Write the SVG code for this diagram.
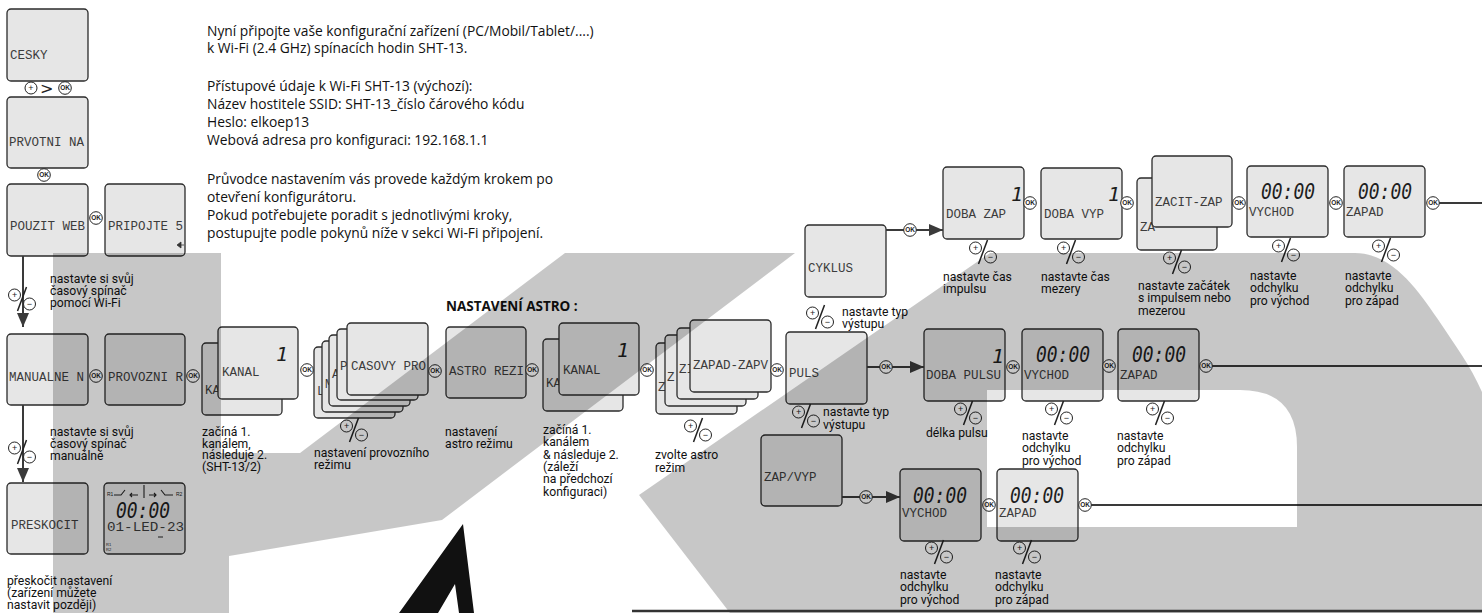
<svg xmlns="http://www.w3.org/2000/svg" width="1482" height="613" viewBox="0 0 1482 613">
<defs>
<style>
.b{fill:#e6e6e6;stroke:#2b2b2b;stroke-width:1.3}
.t{font-family:"Liberation Mono",monospace;font-size:12.5px;fill:#3c3c3c}
.d{font-family:"DejaVu Sans Mono",monospace;font-style:italic;font-size:22px;fill:#1e1e1e}
.one{font-family:"DejaVu Sans Mono",monospace;font-style:italic;font-size:20px;fill:#1e1e1e}
.l{font-family:Roboto,"Open Sans",sans-serif;font-size:12.2px;fill:#111}
.h{font-family:"Open Sans",sans-serif;font-size:13.8px;fill:#111}
.hb{font-family:"Open Sans",sans-serif;font-size:13.5px;font-weight:bold;fill:#111}
.c{stroke:#3a3a3a;stroke-width:2;fill:none}
.okc{fill:#fff;stroke:#222;stroke-width:1}
.okt{font-family:"Liberation Sans",sans-serif;font-size:6.5px;font-weight:bold;fill:#222;text-anchor:middle}
.pmc{fill:#fff;stroke:#222;stroke-width:1}
.pmt{font-family:"Liberation Sans",sans-serif;font-size:9px;fill:#222;text-anchor:middle}
.s{font-family:"Liberation Sans",sans-serif;font-size:5px;fill:#222}
.wm{fill:#000;fill-opacity:.22}
</style>
<g id="ok"><circle class="okc" r="6.3"/><text class="okt" y="2.4">OK</text></g>
<g id="pm"><circle class="pmc" cx="-7.5" cy="-4" r="6"/><text class="pmt" x="-7.5" y="-1">+</text><circle class="pmc" cx="7.5" cy="5" r="6"/><text class="pmt" x="7.5" y="8">−</text><path d="M4.5,-12 L-4.5,12" stroke="#222" stroke-width="1.5"/></g>
<marker id="ah" viewBox="0 0 14 12" refX="14" refY="6" markerWidth="14" markerHeight="12" markerUnits="userSpaceOnUse" orient="auto"><path d="M0,0 L14,6 L0,12 Z" fill="#3a3a3a"/></marker>
</defs>
<rect width="1482" height="613" fill="#fff"/>

<g id="intro">
<text class="h" x="207" y="36"><tspan x="207">Nyní připojte vaše konfigurační zařízení (PC/Mobil/Tablet/....)</tspan><tspan x="207" dy="17">k Wi-Fi (2.4 GHz) spínacích hodin SHT-13.</tspan></text>
<text class="h" x="207" y="91"><tspan x="207">Přístupové údaje k Wi-Fi SHT-13 (výchozí):</tspan><tspan x="207" dy="18">Název hostitele SSID: SHT-13_číslo čárového kódu</tspan><tspan x="207" dy="18">Heslo: elkoep13</tspan><tspan x="207" dy="18">Webová adresa pro konfiguraci: 192.168.1.1</tspan></text>
<text class="h" x="207" y="184"><tspan x="207">Průvodce nastavením vás provede každým krokem po</tspan><tspan x="207" dy="18">otevření konfigurátoru.</tspan><tspan x="207" dy="18">Pokud potřebujete poradit s jednotlivými kroky,</tspan><tspan x="207" dy="18">postupujte podle pokynů níže v sekci Wi-Fi připojení.</tspan></text>
<text class="hb" x="446" y="311">NASTAVENÍ ASTRO :</text>
</g>

<g id="n-cesky"><rect class="b" x="7" y="9" width="81" height="72" rx="4"/><text class="t" x="10" y="59">CESKY</text></g>
<g id="n-prvotni"><rect class="b" x="7" y="97" width="81" height="71" rx="4"/><text class="t" x="9" y="146">PRVOTNI NA</text></g>
<g id="n-pouzit"><rect class="b" x="7" y="184" width="81" height="72" rx="4"/><text class="t" x="10" y="230">POUZIT WEB</text></g>
<g id="n-pripojte"><rect class="b" x="105" y="184" width="80" height="72" rx="4"/><text class="t" x="108" y="230">PRIPOJTE 5</text><path d="M177,245 L181,242 V248 Z M181,245 H184" stroke="#333" stroke-width="0.8" fill="#333"/></g>
<g id="n-manual"><rect class="b" x="7" y="334" width="81" height="71" rx="4"/><text class="t" x="9" y="381">MANUALNE N</text></g>
<g id="n-provozni"><rect class="b" x="105" y="334" width="80" height="71" rx="4"/><text class="t" x="108" y="381">PROVOZNI R</text></g>
<g id="n-preskocit"><rect class="b" x="7" y="483" width="81" height="71" rx="4"/><text class="t" x="11" y="529">PRESKOCIT</text></g>
<g id="n-clock"><rect class="b" x="104" y="483" width="81" height="71" rx="4"/>
<text class="s" x="107" y="496">R1</text><text class="s" x="176" y="496">R2</text>
<path d="M114,495 H121 L125,490 M131,495 H138 M132,493 L130,495 L132,497 M144,485 V498 M149,495 H156 M154,493 L156,495 L154,497 M161,490 L165,495 H173" stroke="#222" stroke-width="1.1" fill="none"/>
<text class="d" x="116" y="518" textLength="54" lengthAdjust="spacingAndGlyphs">00:00</text>
<text class="t" x="107" y="531" textLength="77" lengthAdjust="spacingAndGlyphs">01-LED-23</text>
<path d="M158,537 H163" stroke="#222" stroke-width="1"/>
<text class="s" x="106" y="546" style="font-size:4px">R1</text><text class="s" x="106" y="550.5" style="font-size:4px">R2</text>
</g>

<g id="n-kanal1"><rect class="b" x="202" y="343" width="80" height="72" rx="4"/><text class="t" x="205" y="394">KA</text><rect class="b" x="218" y="327" width="80" height="72" rx="4"/><text class="t" x="222" y="376">KANAL</text><text class="one" x="276" y="361">1</text></g>
<g id="n-casovy">
<rect class="b" x="314" y="347" width="81" height="71" rx="4"/><text class="t" x="317" y="395">L</text>
<rect class="b" x="322" y="341" width="81" height="71" rx="4"/><text class="t" x="325" y="388">M</text>
<rect class="b" x="329" y="335" width="81" height="71" rx="4"/><text class="t" x="332" y="378">A</text>
<rect class="b" x="337" y="329" width="81" height="71" rx="4"/><text class="t" x="340" y="370">P</text>
<rect class="b" x="347" y="323" width="81" height="72" rx="4"/><text class="t" x="351" y="370">CASOVY PRO</text>
</g>
<g id="n-astro"><rect class="b" x="446" y="327" width="80" height="71" rx="4"/><text class="t" x="449" y="375">ASTRO REZI</text></g>
<g id="n-kanal2"><rect class="b" x="543" y="339" width="80" height="72" rx="4"/><text class="t" x="546" y="387">KA</text><rect class="b" x="559" y="323" width="80" height="72" rx="4"/><text class="t" x="563" y="374">KANAL</text><text class="one" x="617" y="357">1</text></g>
<g id="n-zapad-stack">
<rect class="b" x="656" y="343" width="81" height="71" rx="4"/><text class="t" x="658" y="391">Z</text>
<rect class="b" x="665" y="335" width="81" height="71" rx="4"/><text class="t" x="667" y="381">Z</text>
<rect class="b" x="677" y="328" width="81" height="71" rx="4"/><text class="t" x="679" y="373">ZI</text>
<rect class="b" x="690" y="320" width="81" height="72" rx="4"/><text class="t" x="693" y="369">ZAPAD-ZAPV</text>
</g>
<g id="n-puls"><rect class="b" x="786" y="332" width="81" height="72" rx="4"/><text class="t" x="789" y="377">PULS</text></g>
<g id="n-cyklus"><rect class="b" x="805" y="225" width="81" height="72" rx="4"/><text class="t" x="808" y="272">CYKLUS</text></g>
<g id="n-zapvyp"><rect class="b" x="761" y="435" width="81" height="71" rx="4"/><text class="t" x="764" y="481">ZAP/VYP</text></g>

<g id="n-dobazap"><rect class="b" x="943" y="167" width="81" height="72" rx="4"/><text class="one" x="1011" y="201">1</text><text class="t" x="946" y="218">DOBA ZAP</text></g>
<g id="n-dobavyp"><rect class="b" x="1041" y="168" width="81" height="71" rx="4"/><text class="one" x="1108" y="201">1</text><text class="t" x="1044" y="218">DOBA VYP</text></g>
<g id="n-zacit"><rect class="b" x="1137" y="178" width="80" height="72" rx="4"/><text class="t" x="1140" y="231">ZA</text><rect class="b" x="1152" y="156" width="80" height="71" rx="4"/><text class="t" x="1155" y="206">ZACIT-ZAP</text></g>
<g id="n-vychod1"><rect class="b" x="1247" y="166" width="81" height="71" rx="4"/><text class="d" x="1261" y="199" textLength="54" lengthAdjust="spacingAndGlyphs">00:00</text><text class="t" x="1249" y="216">VYCHOD</text></g>
<g id="n-zapad1"><rect class="b" x="1344" y="166" width="81" height="71" rx="4"/><text class="d" x="1358" y="199" textLength="54" lengthAdjust="spacingAndGlyphs">00:00</text><text class="t" x="1346" y="216">ZAPAD</text></g>

<g id="n-dobapulsu"><rect class="b" x="924" y="329" width="81" height="72" rx="4"/><text class="one" x="992" y="363">1</text><text class="t" x="926" y="379">DOBA PULSU</text></g>
<g id="n-vychod2"><rect class="b" x="1022" y="329" width="81" height="72" rx="4"/><text class="d" x="1036" y="362" textLength="54" lengthAdjust="spacingAndGlyphs">00:00</text><text class="t" x="1024" y="379">VYCHOD</text></g>
<g id="n-zapad2"><rect class="b" x="1118" y="329" width="81" height="72" rx="4"/><text class="d" x="1132" y="362" textLength="54" lengthAdjust="spacingAndGlyphs">00:00</text><text class="t" x="1120" y="379">ZAPAD</text></g>

<g id="n-vychod3"><rect class="b" x="900" y="469" width="81" height="72" rx="4"/><text class="d" x="913" y="503" textLength="54" lengthAdjust="spacingAndGlyphs">00:00</text><text class="t" x="902" y="517">VYCHOD</text></g>
<g id="n-zapad3"><rect class="b" x="997" y="469" width="81" height="72" rx="4"/><text class="d" x="1010" y="503" textLength="54" lengthAdjust="spacingAndGlyphs">00:00</text><text class="t" x="999" y="517">ZAPAD</text></g>

<g id="connectors">
<path class="c" d="M23,256 V327" marker-end="url(#ah)"/>
<path class="c" d="M23,405 V482" marker-end="url(#ah)"/>
<path class="c" d="M886,230 H943" marker-end="url(#ah)"/>
<path class="c" d="M867,367 H924" marker-end="url(#ah)"/>
<path class="c" d="M842,497 H900" marker-end="url(#ah)"/>
<path class="c" d="M1439,203 H1482"/>
<path class="c" d="M1212,366 H1482"/>
<path class="c" d="M1091,505 H1482"/>
<circle class="pmc" cx="31" cy="88" r="6"/><text class="pmt" x="31" y="91">+</text>
<text x="40" y="94" style="font-family:'DejaVu Sans',sans-serif;font-size:16px;fill:#222">&gt;</text>
<use href="#ok" x="65" y="88"/>
<use href="#ok" x="44" y="175"/>
<use href="#ok" x="96" y="218"/>
<use href="#ok" x="96" y="376"/>
<use href="#ok" x="193" y="376"/>
<use href="#ok" x="307" y="370"/>
<use href="#ok" x="435" y="371"/>
<use href="#ok" x="532" y="370"/>
<use href="#ok" x="647" y="370"/>
<use href="#ok" x="777" y="370"/>
<use href="#ok" x="910" y="230"/>
<use href="#ok" x="1030" y="203"/>
<use href="#ok" x="1127" y="203"/>
<use href="#ok" x="1239" y="203"/>
<use href="#ok" x="1336" y="203"/>
<use href="#ok" x="1433" y="203"/>
<use href="#ok" x="886" y="367"/>
<use href="#ok" x="1013" y="367"/>
<use href="#ok" x="1109" y="366"/>
<use href="#ok" x="1206" y="366"/>
<use href="#ok" x="866" y="497"/>
<use href="#ok" x="989" y="505"/>
<use href="#ok" x="1085" y="505"/>
<use href="#pm" x="22" y="299"/>
<use href="#pm" x="22" y="452"/>
<use href="#pm" x="354" y="430"/>
<use href="#pm" x="698" y="430"/>
<use href="#pm" x="820" y="317"/>
<use href="#pm" x="806" y="416"/>
<use href="#pm" x="983" y="252"/>
<use href="#pm" x="1071" y="252"/>
<use href="#pm" x="1177" y="262"/>
<use href="#pm" x="1286" y="250"/>
<use href="#pm" x="1386" y="250"/>
<use href="#pm" x="968" y="413"/>
<use href="#pm" x="1059" y="413"/>
<use href="#pm" x="1160" y="413"/>
<use href="#pm" x="939" y="552"/>
<use href="#pm" x="1027" y="552"/>
</g>

<g id="labels">
<text class="l" x="50" y="283"><tspan x="50">nastavte si svůj</tspan><tspan x="50" dy="12">časový spínač</tspan><tspan x="50" dy="12">pomocí Wi-Fi</tspan></text>
<text class="l" x="50" y="436"><tspan x="50">nastavte si svůj</tspan><tspan x="50" dy="12">časový spínač</tspan><tspan x="50" dy="12">manuálně</tspan></text>
<text class="l" x="7" y="585"><tspan x="7">přeskočit nastavení</tspan><tspan x="7" dy="12">(zařízení můžete</tspan><tspan x="7" dy="12">nastavit později)</tspan></text>
<text class="l" x="202" y="436"><tspan x="202">začíná 1.</tspan><tspan x="202" dy="11.7">kanálem,</tspan><tspan x="202" dy="11.7">následuje 2.</tspan><tspan x="202" dy="11.7">(SHT-13/2)</tspan></text>
<text class="l" x="314" y="457"><tspan x="314">nastavení provozního</tspan><tspan x="314" dy="12">režimu</tspan></text>
<text class="l" x="445" y="436"><tspan x="445">nastavení</tspan><tspan x="445" dy="12">astro režimu</tspan></text>
<text class="l" x="543" y="434"><tspan x="543">začíná 1.</tspan><tspan x="543" dy="12.3">kanálem</tspan><tspan x="543" dy="12.3">&amp; následuje 2.</tspan><tspan x="543" dy="12.3">(záleží</tspan><tspan x="543" dy="12.3">na předchozí</tspan><tspan x="543" dy="12.3">konfiguraci)</tspan></text>
<text class="l" x="655" y="459"><tspan x="655">zvolte astro</tspan><tspan x="655" dy="12.5">režim</tspan></text>
<text class="l" x="842" y="316"><tspan x="842">nastavte typ</tspan><tspan x="842" dy="11.5">výstupu</tspan></text>
<text class="l" x="823" y="416"><tspan x="823">nastavte typ</tspan><tspan x="823" dy="12.5">výstupu</tspan></text>
<text class="l" x="943" y="281"><tspan x="943">nastavte čas</tspan><tspan x="943" dy="12">impulsu</tspan></text>
<text class="l" x="1041" y="281"><tspan x="1041">nastavte čas</tspan><tspan x="1041" dy="12">mezery</tspan></text>
<text class="l" x="1138" y="290"><tspan x="1138">nastavte začátek</tspan><tspan x="1138" dy="12">s impulsem nebo</tspan><tspan x="1138" dy="12.5">mezerou</tspan></text>
<text class="l" x="1250" y="280"><tspan x="1250">nastavte</tspan><tspan x="1250" dy="12">odchylku</tspan><tspan x="1250" dy="12.5">pro východ</tspan></text>
<text class="l" x="1345" y="280"><tspan x="1345">nastavte</tspan><tspan x="1345" dy="12">odchylku</tspan><tspan x="1345" dy="12.5">pro západ</tspan></text>
<text class="l" x="926" y="437">délka pulsu</text>
<text class="l" x="1022" y="440"><tspan x="1022">nastavte</tspan><tspan x="1022" dy="12">odchylku</tspan><tspan x="1022" dy="12.5">pro východ</tspan></text>
<text class="l" x="1117" y="440"><tspan x="1117">nastavte</tspan><tspan x="1117" dy="12">odchylku</tspan><tspan x="1117" dy="12.5">pro západ</tspan></text>
<text class="l" x="900" y="579"><tspan x="900">nastavte</tspan><tspan x="900" dy="12">odchylku</tspan><tspan x="900" dy="12.5">pro východ</tspan></text>
<text class="l" x="995" y="579"><tspan x="995">nastavte</tspan><tspan x="995" dy="12">odchylku</tspan><tspan x="995" dy="12.5">pro západ</tspan></text>
</g>

<g id="watermark">
<path class="wm" d="M53,253 H221 V453 H300 L565,253 H795 L442,520 L229,556 V613 H53 Z"/>
<path class="wm" fill-rule="evenodd" d="M990,253 H1355 C1392,253 1418,290 1437,318 C1455,345 1470,365 1482,392 V613 H730 L639,495 Z M987,390 H1240 Q1297,390 1297,447 V527 H987 Z"/>
<polygon points="399,613 463,524 474,613 459,613 455,584 438,613" fill="#111"/>
<path d="M632,611 H1482" stroke="#333" stroke-width="2.5"/>
</g>
</svg>
